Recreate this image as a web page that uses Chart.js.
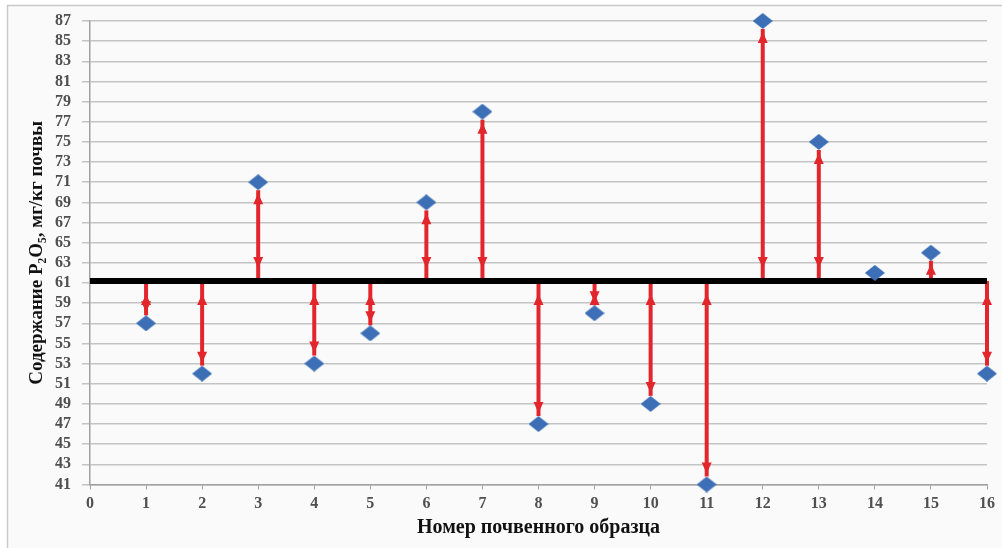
<!DOCTYPE html>
<html>
<head>
<meta charset="utf-8">
<script src="https://cdn.jsdelivr.net/npm/chart.js@4.4.0/dist/chart.umd.min.js"></script>
<style>
  html, body { margin: 0; padding: 0; background: #ffffff; }
  #wrap { position: relative; width: 1002px; height: 548px; }
</style>
</head>
<body>
<div id="wrap"><canvas id="c" width="1002" height="548"></canvas></div>
<script>
// ---- data ----
const sampleNumbers = [1, 2, 3, 4, 5, 6, 7, 8, 9, 10, 11, 12, 13, 14, 15, 16];
const p2o5Values = [57, 52, 71, 53, 56, 69, 78, 47, 58, 49, 41, 87, 75, 62, 64, 52];
const meanValue = 61.2;
const xRange = [0, 16];
const yRange = [41, 87];
const yTitle = 'Содержание P₂O₅, мг/кг почвы';
const xTitle = 'Номер почвенного образца';

// diamond marker image
function makeDiamond(w, h, color) {
  const c = document.createElement('canvas');
  c.width = w; c.height = h;
  const g = c.getContext('2d');
  g.fillStyle = color;
  g.beginPath();
  g.moveTo(w / 2, 0); g.lineTo(w, h / 2); g.lineTo(w / 2, h); g.lineTo(0, h / 2);
  g.closePath(); g.fill();
  return c;
}
const diamond = makeDiamond(20, 16, '#3d6fb6');

const bgPlugin = {
  id: 'bg',
  beforeDraw(chart) {
    const ctx = chart.ctx;
    ctx.save();
    ctx.fillStyle = '#ffffff';
    ctx.fillRect(0, 0, chart.width, chart.height);
    ctx.fillStyle = '#fafafa';
    ctx.fillRect(7, 5, chart.width, chart.height);
    ctx.strokeStyle = '#c9c9c9';
    ctx.lineWidth = 1.5;
    ctx.strokeRect(7.5, 5.5, chart.width + 10, chart.height + 10);
    ctx.restore();
  }
};

function head(ctx, x, tipY, dir) {
  // dir: -1 pointing up, +1 pointing down
  const len = 11, hw = 5;
  ctx.beginPath();
  ctx.moveTo(x, tipY);
  ctx.lineTo(x - hw, tipY - dir * len);
  ctx.lineTo(x + hw, tipY - dir * len);
  ctx.closePath();
  ctx.fill();
}

const arrowPlugin = {
  id: 'arrows',
  beforeDatasetsDraw(chart) {
    const ctx = chart.ctx;
    const xs = chart.scales.x, ys = chart.scales.y;
    const ym = ys.getPixelForValue(meanValue);
    ctx.save();
    ctx.strokeStyle = '#e2262b';
    ctx.fillStyle = '#e2262b';
    ctx.lineWidth = 4;
    sampleNumbers.forEach((n, i) => {
      const x = xs.getPixelForValue(n);
      const yp = ys.getPixelForValue(p2o5Values[i]);
      const dist = Math.abs(yp - ym);
      if (dist < 12) return;
      const dir = yp < ym ? -1 : 1; // direction toward point
      const endP = yp - dir * 8;
      ctx.beginPath();
      ctx.moveTo(x, ym);
      ctx.lineTo(x, endP);
      ctx.stroke();
      head(ctx, x, yp - dir * 11, dir);
      if (dist > 30) head(ctx, x, ym + dir * Math.min(13, dist / 2 - 2), -dir);
    });
    ctx.restore();
  }
};

const ctx = document.getElementById('c').getContext('2d');
new Chart(ctx, {
  type: 'scatter',
  data: {
    datasets: [
      {
        type: 'line',
        label: 'mean',
        data: [{ x: xRange[0], y: meanValue }, { x: xRange[1], y: meanValue }],
        borderColor: '#000000',
        borderWidth: 6,
        pointRadius: 0,
        fill: false,
        order: 2
      },
      {
        label: 'P2O5',
        data: sampleNumbers.map((n, i) => ({ x: n, y: p2o5Values[i] })),
        pointStyle: diamond,
        pointRadius: 10,
        backgroundColor: '#3d6fb6',
        borderColor: '#3d6fb6',
        clip: false,
        order: 1
      }
    ]
  },
  options: {
    responsive: false,
    animation: false,
    events: [],
    layout: { padding: { left: 0, right: 15, top: 21, bottom: 0 } },
    plugins: { legend: { display: false }, tooltip: { enabled: false } },
    scales: {
      x: {
        type: 'linear',
        min: xRange[0], max: xRange[1],
        ticks: { stepSize: 1, autoSkip: false, maxRotation: 0, color: '#505050', padding: 5,
                 font: { family: 'Liberation Serif', size: 16, weight: 'bold' } },
        grid: { drawOnChartArea: false, tickLength: 5, color: '#a0a0a0', lineWidth: 1 },
        border: { color: '#a0a0a0', width: 1.5 },
        title: { display: true, text: xTitle, color: '#111111', padding: { top: 0, bottom: 8 },
                 font: { family: 'Liberation Serif', size: 20, weight: 'bold' } },
        afterFit(s) { s.height = 63.5; }
      },
      y: {
        type: 'linear',
        min: yRange[0], max: yRange[1],
        ticks: { stepSize: 2, autoSkip: false, color: '#505050', padding: 11,
                 font: { family: 'Liberation Serif', size: 16, weight: 'bold' } },
        grid: { color: '#c4c4c4', lineWidth: 1.5, tickLength: 8 },
        border: { color: '#a0a0a0', width: 1.5 },
        title: { display: true, text: yTitle, color: '#111111', padding: { top: 26, bottom: 0 },
                 font: { family: 'Liberation Serif', size: 19, weight: 'bold' } },
        afterFit(s) { s.width = 90; }
      }
    }
  },
  plugins: [bgPlugin, arrowPlugin]
});
</script>
</body>
</html>
